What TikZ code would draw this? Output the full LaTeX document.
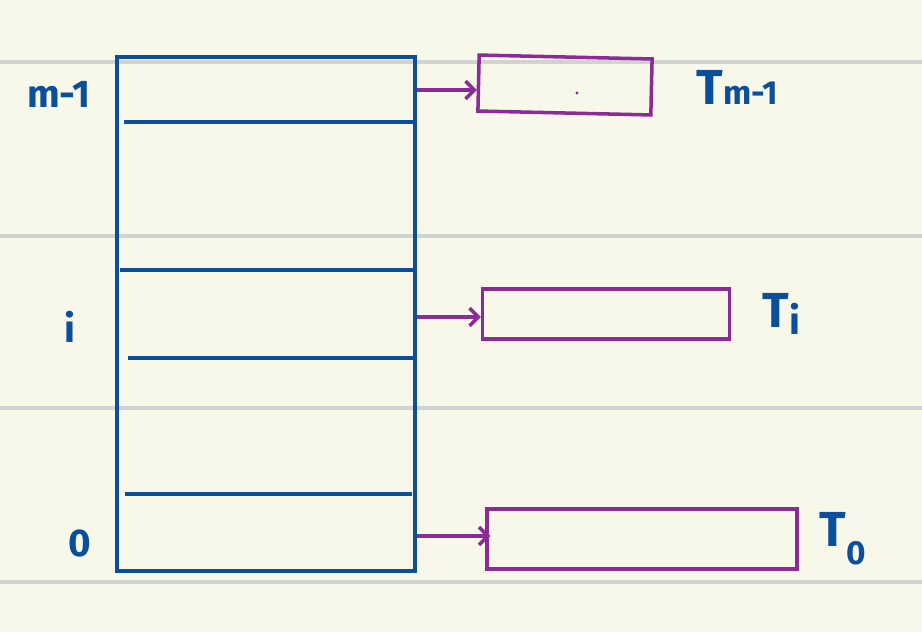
\documentclass[tikz,border=0pt]{standalone}
\usepackage{fontspec}
\setmainfont{Fira Sans}
\usetikzlibrary{positioning, arrows.meta}
\definecolor{Plava}{HTML}{0B4F9C}
\definecolor{Ljubicasta}{HTML}{8A2B98}
\definecolor{Papir}{HTML}{F7F7EA}
\definecolor{Linija}{HTML}{D2D2D0}
\tikzset{
  tabela/.style    = {rectangle, draw=Plava, line width=2pt, inner sep=0pt,
                      minimum width=5.96cm, minimum height=10.28cm},
  pregrada/.style  = {draw=Plava, line width=2pt},
  lista/.style     = {rectangle, draw=Ljubicasta, line width=2pt, inner sep=0pt},
  pokazivac/.style = {-{Straight Barb[length=5pt, width=10pt]}, draw=Ljubicasta,
                      line width=2pt},
  indeks/.style    = {text=Plava, font=\fontsize{22}{24}\selectfont\bfseries},
  oznaka/.style    = {text=Plava, font=\fontsize{28}{30}\selectfont\bfseries},
  red/.style       = {draw=Linija, line width=2.2pt},
}

\begin{document}
\begin{tikzpicture}[x=0.02cm, y=-0.02cm]
  \fill[Papir] (0,0) rectangle (922,632);
  \useasboundingbox (0,0) rectangle (922,632);

  % linije papira
  \foreach \y in {62, 236, 408, 582}
    \draw[red] (0,\y) -- (922,\y);

  % tabela
  \node[tabela] (tab) at (266,314) {};
  \draw[pregrada] (124,122) -- (tab.east |- 0,122);
  \draw[pregrada] (120,270) -- (tab.east |- 0,270);
  \draw[pregrada] (128,358) -- (tab.east |- 0,358);
  \draw[pregrada] (125,494) -- (412,494);

  \node[indeks] (im) at (59,94)  {m-1};
  \node[indeks] (ii) at (70,327) {i};
  \node[indeks] (i0) at (80,543) {0};

  % liste
  \node[lista, minimum width=3.46cm, minimum height=1.12cm, rotate=-1.3]
        (t1) at (565,85) {};
  \node[lista, minimum width=4.94cm, minimum height=1.0cm]  (ti) at (606,314) {};
  \node[lista, minimum width=6.2cm,  minimum height=1.2cm]  (t0) at (642,539) {};
  \fill[Ljubicasta] (577,93) circle (0.9pt);

  \draw[pokazivac] (tab.east |- 0,90)  -- (t1.west |- 0,90);
  \draw[pokazivac] (tab.east |- 0,317) -- (ti.west |- 0,317);
  \draw[pokazivac] (tab.east |- 0,536) -- ([xshift=0.1cm]t0.west |- 0,536);

  \node[oznaka, right=0.75cm of t1] (n1) {T{\fontsize{19}{21}\selectfont m-1}};
  \node[oznaka, right=0.5cm of ti]  (ni) {T\raisebox{-0.3ex}{\fontsize{22}{24}\selectfont i}};
  \node[oznaka, right=0.3cm of t0]  (n0) {T\raisebox{-0.7ex}{\fontsize{19}{21}\selectfont 0}};
\end{tikzpicture}
\end{document}
